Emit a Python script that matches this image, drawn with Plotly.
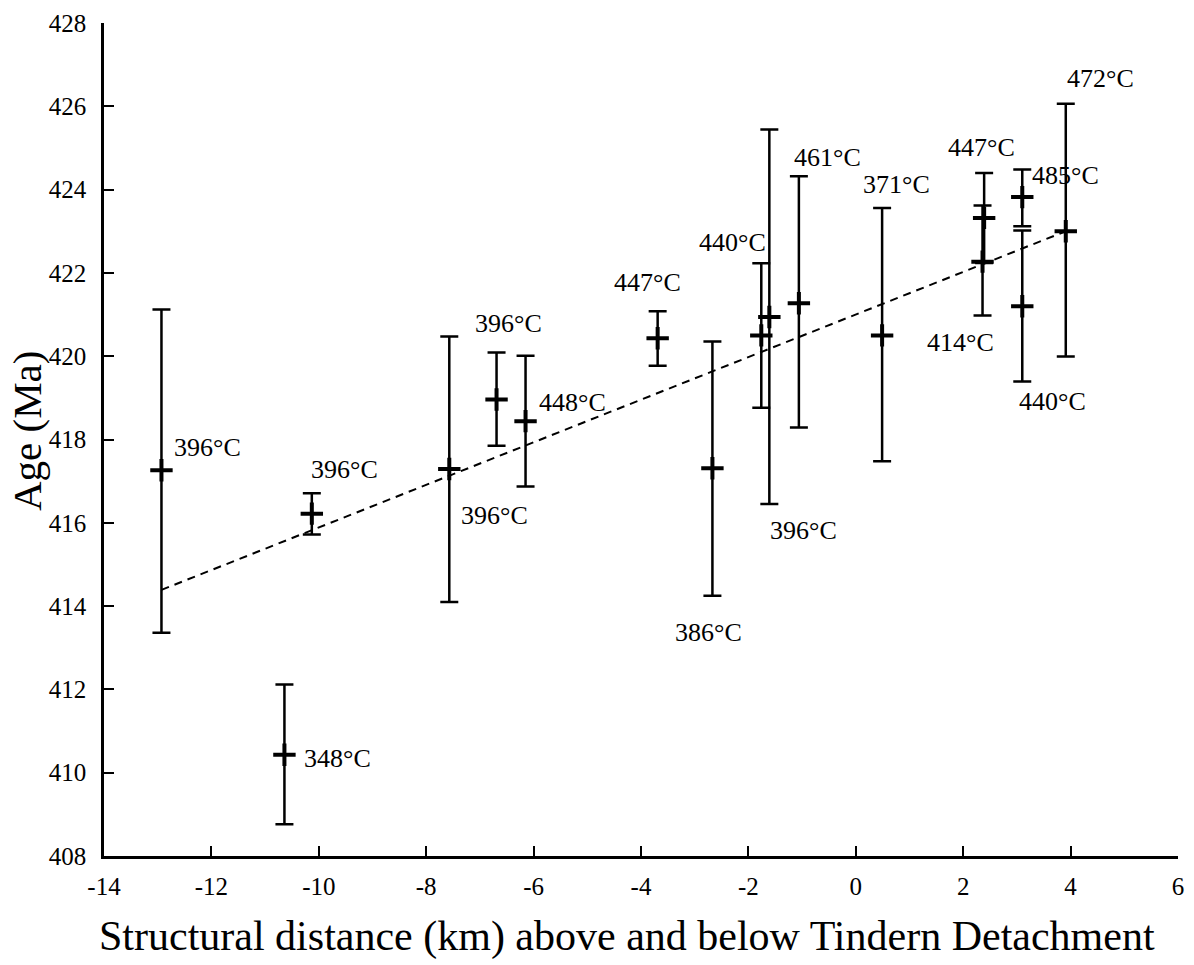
import plotly.graph_objects as go

# Data
distance_km = [-12.93, -10.13, -10.64, -7.57, -6.69, -6.15, -3.69, -2.67, -1.76, -1.61,
               -1.06, 0.49, 2.39, 2.36, 3.10, 3.10, 3.91]
age_ma = [417.26, 416.22, 410.43, 417.29, 418.96, 418.44, 420.43, 417.31, 420.50, 420.94,
          421.27, 420.50, 423.32, 422.27, 423.82, 421.20, 423.00]
err_plus = [3.86, 0.49, 1.69, 3.18, 1.13, 1.57, 0.65, 3.04, 1.73, 4.50,
            3.05, 3.06, 1.08, 1.35, 0.66, 1.82, 3.06]
err_minus = [3.90, 0.50, 1.67, 3.19, 1.11, 1.57, 0.66, 3.06, 1.74, 4.49,
             2.98, 3.02, 1.08, 1.29, 0.70, 1.81, 3.01]
temps = ["396", "396", "348", "396", "396", "448", "447", "386", "440", "396",
         "461", "371", "447", "414", "485", "440", "472"]

# Regression line end points
fit_x = [-12.93, 3.91]
fit_y = [414.39, 423.00]

# Axis ticks
x_ticks = [-14, -12, -10, -8, -6, -4, -2, 0, 2, 4, 6]
x_ticktext = ["-14", "-12", "-10", "-8", "-6", "-4", "-2", "0", "2", "4", "6"]
y_ticks = [408, 410, 412, 414, 416, 418, 420, 422, 424, 426, 428]

x_title = "Structural distance (km) above and below Tindern Detachment"
y_title = "Age (Ma)"

# Label placement offsets in pixels (layout only)
label_dx = [46, 33, 53, 45, 12, 47, -10, -4, -29, 34, 29, 14, -3, -22, 43, 30, 35]
label_dy = [23, 44, -4, -46, 76, 19, 56, -164, 93, -213, 146, 151, 70, -81, 22, -95, 153]

FONT = "Liberation Serif, Times New Roman, serif"

fig = go.Figure()

fig.add_trace(go.Scatter(
    x=fit_x, y=fit_y, mode="lines",
    line=dict(color="black", width=2, dash="8px,6px"),
    hoverinfo="skip", showlegend=False,
))

fig.add_trace(go.Scatter(
    x=distance_km, y=age_ma, mode="markers",
    marker=dict(symbol="cross-thin-open", size=16, color="black",
                line=dict(color="black", width=4)),
    error_y=dict(type="data", symmetric=False, array=err_plus, arrayminus=err_minus,
                 color="black", thickness=2.5, width=9),
    showlegend=False,
))

for x, y, t, dx, dy in zip(distance_km, age_ma, temps, label_dx, label_dy):
    fig.add_annotation(
        x=x, y=y, xref="x", yref="y", text=t + "°C", showarrow=False,
        xanchor="center", yanchor="middle", xshift=dx, yshift=dy,
        font=dict(family=FONT, size=26, color="black"),
    )

# Axis titles
fig.add_annotation(
    x=0.487, y=-0.0964, xref="paper", yref="paper", text=x_title, showarrow=False,
    xanchor="center", yanchor="middle",
    font=dict(family=FONT, size=42, color="black"),
)
fig.add_annotation(
    x=-0.0722, y=0.5107, xref="paper", yref="paper", text=y_title, showarrow=False,
    xanchor="center", yanchor="middle", textangle=-90,
    font=dict(family=FONT, size=41, color="black"),
)

fig.update_layout(
    width=1194, height=965,
    margin=dict(l=104, r=10, t=16, b=109),
    paper_bgcolor="white", plot_bgcolor="white",
    font=dict(family=FONT, color="black"),
    showlegend=False,
)

fig.update_xaxes(
    range=[-14, 6], tickmode="array", tickvals=x_ticks, ticktext=x_ticktext,
    showline=True, linecolor="black", linewidth=2.5, mirror=False,
    ticks="inside", ticklen=10, tickwidth=2, tickcolor="black",
    tickfont=dict(family=FONT, size=25, color="black"),
    ticklabelstandoff=6,
    showgrid=False, zeroline=False,
)
fig.update_yaxes(
    range=[408, 428], tickmode="array", tickvals=y_ticks,
    showline=True, linecolor="black", linewidth=2.5, mirror=False,
    ticks="inside", ticklen=10, tickwidth=2, tickcolor="black",
    tickfont=dict(family=FONT, size=25, color="black"),
    ticklabelstandoff=10,
    showgrid=False, zeroline=False,
)

fig.write_html("out.html")
